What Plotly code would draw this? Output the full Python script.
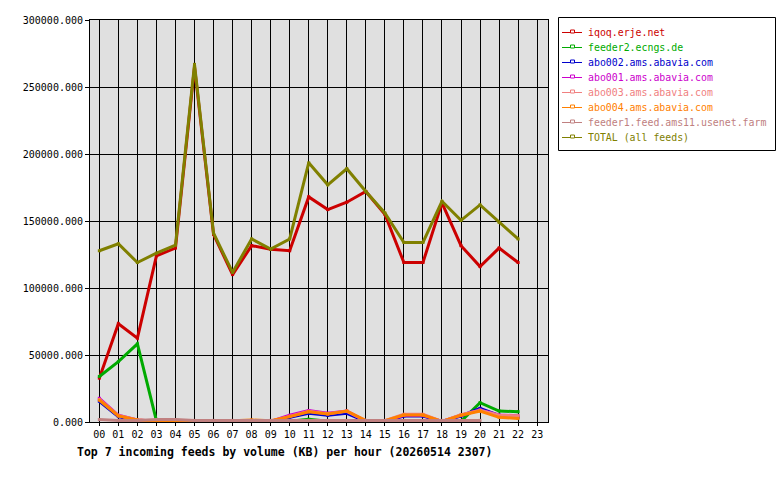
import plotly.graph_objects as go

hours = list(range(24))
hour_labels = ["%02d" % h for h in hours]

iqoq = [32700, 73300, 62600, 124000, 129800, 265000, 140000, 110000, 131600, 129000, 127800,
        168000, 158500, 164000, 172000, 155000, 119000, 119000, 163500, 131600, 116000, 129800, 119000]
feeder2 = [34000, 45000, 58300, 1000, 500, 0, 0, 0, 0, 0, 500,
           2000, 500, 500, 0, 0, 0, 0, 0, 500, 14400, 8200, 7700]
abo002 = [15500, 4000, 1000, 500, 500, 0, 0, 500, 1000, 500, 3500,
          6500, 5000, 6500, 500, 500, 4500, 4500, 500, 4500, 10200, 5000, 3500]
abo001 = [17700, 5000, 1500, 500, 500, 0, 0, 500, 1000, 500, 5000,
          8500, 6500, 8200, 500, 500, 5000, 5000, 500, 5000, 9000, 5200, 4700]
abo003 = [16800, 4800, 1500, 500, 500, 0, 0, 500, 1200, 500, 4300,
          8000, 6200, 8000, 1000, 1000, 5700, 5700, 500, 5500, 8800, 5000, 4700]
abo004 = [16400, 4500, 1500, 500, 500, 0, 0, 1000, 1500, 1000, 4000,
          7700, 6000, 8200, 1000, 1000, 5200, 5200, 500, 5000, 8200, 3500, 2700]
feeder1 = [1800, 1200, 1200, 1800, 1800, 1200, 1200, 1200, 1200, 1200, 1200,
           1200, 1200, 1200, 1200, 1200, 1200, 1200, 1200, 1200, 1200]
total = [127800, 133000, 119000, 126000, 132000, 266900, 141000, 111600, 136600, 129000, 136600,
         193400, 177000, 189000, 172000, 156000, 134000, 134000, 164700, 150500, 162000, 149000, 136600]

names = ["iqoq.erje.net", "feeder2.ecngs.de", "abo002.ams.abavia.com", "abo001.ams.abavia.com",
         "abo003.ams.abavia.com", "abo004.ams.abavia.com", "feeder1.feed.ams11.usenet.farm",
         "TOTAL (all feeds)"]
values = [iqoq, feeder2, abo002, abo001, abo003, abo004, feeder1, total]
colors = ["#cc0000", "#00aa00", "#0000cc", "#cc00cc", "#f08080", "#ff8000", "#c08080", "#808000"]

y_ticks = [0, 50000, 100000, 150000, 200000, 250000, 300000]

FONT = "DejaVu Sans Mono"

# plot area in pixels
L, R, T, B = 90, 548, 20, 422
def px(x):
    return (x - L) / (R - L)
def py(y):
    return (B - y) / (B - T)

fig = go.Figure()
for name, vals, col in zip(names, values, colors):
    fig.add_trace(go.Scatter(
        x=hours[:len(vals)], y=vals, name=name, mode="lines+markers",
        line=dict(color=col, width=3),
        marker=dict(symbol="square", size=3, color=col),
        showlegend=False,
    ))

# custom legend box
shapes = [dict(type="rect", xref="paper", yref="paper",
               x0=px(558.5), x1=px(775.5), y0=py(150.5), y1=py(17.5),
               line=dict(color="black", width=1), fillcolor="white", layer="above")]
annotations = []
for i, (name, col) in enumerate(zip(names, colors)):
    yy = 32.5 + 15 * i
    shapes.append(dict(type="line", xref="paper", yref="paper",
                       x0=px(562), x1=px(582), y0=py(yy), y1=py(yy),
                       line=dict(color=col, width=1), layer="above"))
    shapes.append(dict(type="rect", xref="paper", yref="paper",
                       x0=px(570.5), x1=px(574.5), y0=py(yy + 0.5), y1=py(yy - 2.5),
                       line=dict(color=col, width=1), fillcolor="white", layer="above"))
    annotations.append(dict(text=name, xref="paper", yref="paper", x=px(586), y=py(yy),
                            xanchor="left", yanchor="middle", showarrow=False,
                            font=dict(family=FONT, size=9.9, color=col)))

annotations.append(dict(
    text="<b>Top 7 incoming feeds by volume (KB) per hour (20260514 2307)</b>",
    xref="paper", yref="paper", x=px(75), y=py(452),
    xanchor="left", yanchor="middle", showarrow=False,
    font=dict(family=FONT, size=11.5, color="black"),
))

fig.update_layout(
    width=780, height=480,
    margin=dict(l=L, r=780 - R, t=T, b=480 - B),
    paper_bgcolor="white", plot_bgcolor="#e0e0e0",
    font=dict(family=FONT, size=10, color="black"),
    showlegend=False,
    shapes=shapes,
    annotations=annotations,
)
fig.update_xaxes(
    range=[-0.49, 23.57], tickmode="array", tickvals=hours, ticktext=hour_labels,
    showgrid=True, gridcolor="black", gridwidth=1,
    showline=True, linecolor="black", linewidth=1, mirror=True,
    ticks="outside", ticklen=3, tickcolor="black", zeroline=False,
)
fig.update_yaxes(
    range=[0, 300000], tickmode="array", tickvals=y_ticks, tickformat=".3f",
    showgrid=True, gridcolor="black", gridwidth=1,
    showline=True, linecolor="black", linewidth=1, mirror=True,
    ticks="outside", ticklen=4, tickcolor="black", zeroline=False,
)

fig.write_html("out.html")
